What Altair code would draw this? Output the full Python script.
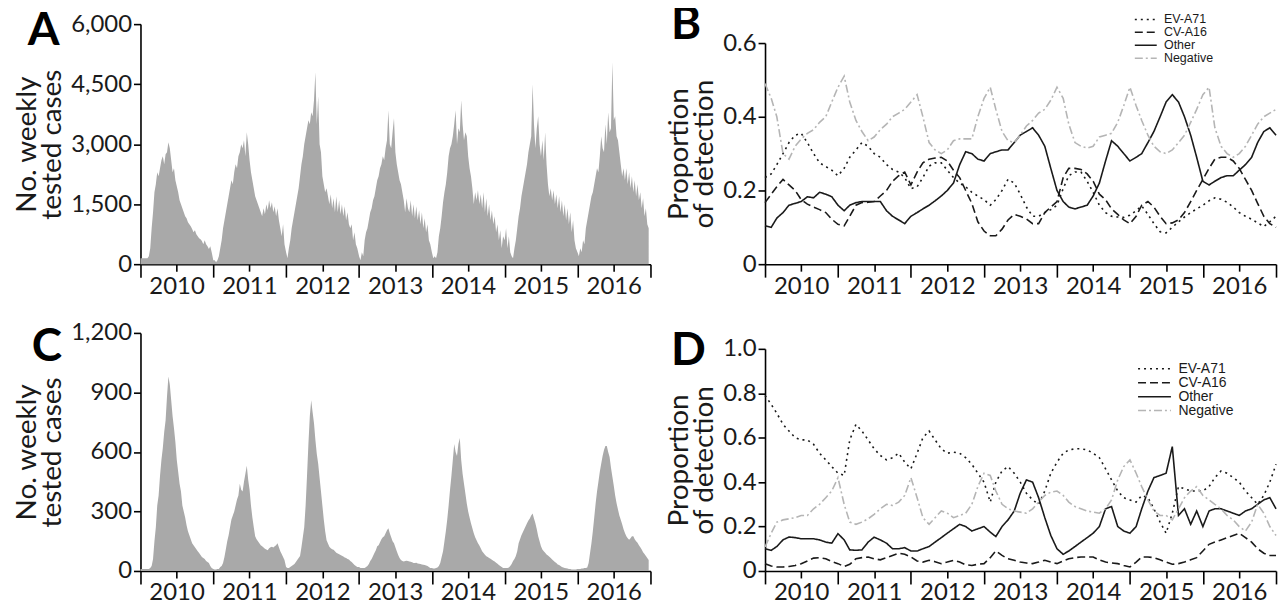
import altair as alt
import pandas as pd

YEARS = [2010, 2011, 2012, 2013, 2014, 2015, 2016]
SERIES = ["EV-A71", "CV-A16", "Other", "Negative"]

# ---------------- Panel A: weekly tested cases (52 weeks per year) ----------------
A_2010 = [150, 150, 150, 150, 150, 150, 200, 400, 900, 1300, 1800, 2000,
          2300, 2200, 2400, 2600, 2700, 2500, 2750, 2800, 3050, 2900, 2600, 2300,
          2400, 2100, 1950, 1800, 1600, 1500, 1400, 1300, 1200, 1150, 1050, 1000,
          950, 880, 800, 850, 750, 700, 650, 620, 580, 500, 600, 500, 450, 380, 450, 300]
A_2011 = [100, 100, 50, 100, 200, 400, 600, 900, 1100, 1300, 1500, 1700,
          1900, 2100, 2000, 2300, 2500, 2400, 2700, 2800, 3000, 2900, 3100, 2700,
          3300, 3000, 2600, 2300, 2100, 1900, 1700, 1600, 1500, 1400, 1300, 1200,
          1400, 1250, 1500, 1350, 1600, 1400, 1550, 1300, 1450, 1200, 1400, 1100, 900, 700, 1000, 500]
A_2012 = [300, 150, 400, 600, 900, 1100, 1300, 1500, 1700, 1900, 2200, 2500,
          2700, 3000, 3200, 3400, 3600, 3500, 3800, 3700, 4100, 4800, 3500, 4200,
          3000, 2800, 2200, 2000, 1800, 1900, 1700, 1500, 1750, 1400, 1650, 1300,
          1700, 1300, 1600, 1250, 1500, 1200, 1450, 1100, 1300, 1000, 900, 1000, 600, 800, 500, 400]
A_2013 = [200, 100, 300, 200, 600, 800, 900, 1100, 1300, 1400, 1600, 1700,
          1900, 2100, 2200, 2400, 2500, 2700, 2600, 2900, 3100, 3850, 3000, 2900,
          3300, 3650, 2800, 2500, 2300, 2100, 2000, 1800, 1600, 1300, 1650, 1400,
          1300, 1600, 1200, 1500, 1150, 1450, 1100, 1350, 1000, 1300, 900, 1150, 800, 1000, 600, 500]
A_2014 = [300, 150, 200, 150, 300, 700, 900, 1200, 1550, 1800, 2000, 2300,
          2700, 2900, 3000, 3200, 3500, 3850, 3000, 3400, 3300, 4100, 3500, 3100,
          3300, 3200, 2700, 2400, 2200, 1900, 1500, 1800, 1600, 1850, 1500, 1750,
          1400, 1800, 1300, 1650, 1200, 1500, 1100, 1350, 1000, 1200, 800, 1000, 600, 850, 400, 700]
A_2015 = [600, 900, 400, 700, 300, 200, 150, 400, 600, 900, 1200, 1400,
          1700, 1900, 2100, 2300, 2500, 2800, 3000, 3200, 4500, 3500, 2900, 3400,
          3700, 3000, 2700, 3100, 2600, 3300, 2500, 2000, 1700, 1900, 1600, 1850,
          1500, 1750, 1400, 1700, 1300, 1600, 1200, 1500, 1100, 1400, 1000, 1300, 800, 1100, 600, 400]
A_2016 = [300, 200, 400, 300, 600, 500, 900, 1100, 1300, 1500, 1700, 1800,
          2000, 2200, 2400, 2300, 2700, 3200, 2900, 2800, 3500, 3000, 3800, 3300,
          3400, 5050, 3600, 3700, 3200, 3100, 2800, 2500, 2200, 2400, 2100, 2400,
          2000, 2300, 1900, 2200, 1800, 2100, 1700, 2000, 1600, 1800, 1400, 1650, 1200, 1400, 1000, 900]

# ---------------- Panel C: weekly tested cases ----------------
C_2010 = [10, 10, 10, 10, 10, 10, 10, 15, 25, 60, 150, 220,
          330, 380, 480, 560, 620, 700, 760, 880, 980, 940, 860, 780,
          720, 650, 560, 500, 440, 400, 330, 300, 270, 230, 200, 180,
          160, 140, 130, 120, 110, 100, 90, 80, 70, 65, 60, 50, 45, 40, 25, 15]
C_2011 = [10, 8, 8, 10, 10, 20, 25, 40, 70, 110, 150, 180,
          220, 260, 280, 300, 330, 360, 380, 440, 410, 400, 450, 490,
          530, 460, 410, 330, 270, 220, 175, 160, 150, 140, 130, 125,
          118, 112, 108, 105, 115, 120, 122, 118, 125, 130, 140, 120, 100, 85, 70, 55]
C_2012 = [20, 15, 15, 20, 25, 30, 35, 45, 55, 65, 75, 120,
          170, 220, 330, 480, 640, 780, 860, 800, 745, 660, 590, 540,
          470, 400, 330, 260, 200, 155, 138, 122, 115, 110, 107, 100,
          92, 88, 84, 80, 77, 73, 68, 65, 60, 58, 50, 45, 38, 30, 25, 20]
C_2013 = [20, 15, 15, 15, 15, 20, 25, 35, 50, 60, 75, 90,
          105, 125, 130, 145, 160, 170, 175, 190, 205, 215, 190, 170,
          150, 140, 120, 100, 80, 65, 55, 50, 48, 50, 52, 50,
          48, 46, 44, 40, 40, 42, 38, 36, 35, 33, 32, 30, 28, 25, 20, 15]
C_2014 = [15, 12, 12, 15, 18, 25, 40, 70, 100, 150, 200, 260,
          330, 410, 480, 560, 640, 600, 580, 640, 670, 560, 490, 440,
          390, 340, 300, 270, 240, 215, 190, 170, 155, 140, 128, 115,
          100, 90, 82, 74, 70, 66, 62, 56, 52, 48, 42, 36, 30, 25, 20, 15]
C_2015 = [15, 15, 15, 18, 25, 35, 50, 60, 75, 100, 140, 160,
          180, 195, 210, 225, 240, 255, 265, 280, 290, 265, 240, 210,
          175, 150, 125, 108, 100, 92, 83, 78, 72, 65, 58, 52,
          45, 40, 33, 30, 25, 20, 17, 15, 14, 12, 10, 10, 8, 8, 8, 8]
C_2016 = [10, 10, 10, 12, 12, 15, 15, 17, 40, 90, 140, 200,
          270, 340, 400, 450, 500, 540, 580, 610, 630, 630, 600, 575,
          520, 475, 430, 380, 342, 310, 280, 258, 235, 210, 192, 175,
          165, 158, 165, 175, 175, 160, 150, 142, 130, 120, 108, 95, 85, 75, 65, 55]

# ---------------- Panel B: monthly proportions (Jan 2010 ... Jan 2017) ----------------
B_EV = [.235, .245, .27, .30, .33, .35, .355, .33, .30, .275, .265, .255,
        .24, .26, .29, .31, .33, .32, .30, .29, .27, .257, .25, .235,
        .205, .21, .235, .266, .275, .275, .255, .235, .22, .21, .195, .185,
        .175, .16, .175, .20, .23, .22, .19, .155, .13, .13, .14, .148,
        .16, .205, .24, .25, .25, .225, .195, .16, .14, .13, .128, .127,
        .133, .145, .158, .135, .11, .088, .085, .10, .115, .128, .14, .15,
        .16, .172, .18, .176, .168, .155, .14, .13, .122, .112, .102, .115, .13]
B_CV = [.167, .19, .21, .23, .215, .20, .175, .163, .155, .148, .14, .122,
        .108, .104, .13, .16, .167, .168, .17, .185, .20, .225, .24, .25,
        .215, .25, .275, .285, .288, .29, .28, .255, .235, .20, .165, .115,
        .09, .077, .077, .095, .12, .135, .13, .123, .11, .11, .14, .155,
        .17, .235, .26, .26, .257, .245, .225, .19, .175, .15, .135, .12,
        .11, .13, .16, .17, .155, .13, .11, .112, .12, .14, .17, .20,
        .23, .26, .285, .29, .29, .28, .26, .23, .20, .165, .13, .11, .10]
B_OT = [.104, .10, .125, .14, .16, .165, .17, .183, .18, .195, .19, .183,
        .16, .145, .16, .167, .17, .17, .17, .17, .145, .13, .12, .11,
        .13, .14, .15, .16, .172, .185, .20, .22, .27, .305, .30, .285,
        .28, .30, .305, .31, .31, .33, .35, .36, .37, .35, .32, .26,
        .20, .17, .155, .15, .155, .16, .185, .22, .28, .335, .32, .30,
        .28, .29, .30, .33, .36, .40, .44, .46, .44, .40, .35, .29,
        .225, .215, .225, .235, .24, .24, .255, .27, .29, .33, .36, .37, .35]
B_NG = [.49, .45, .40, .30, .285, .32, .34, .355, .365, .385, .40, .44,
        .48, .51, .44, .39, .36, .335, .345, .365, .38, .40, .41, .42,
        .44, .46, .40, .33, .31, .30, .31, .335, .34, .34, .34, .40,
        .45, .48, .42, .36, .335, .33, .35, .375, .39, .41, .42, .445,
        .48, .45, .38, .33, .32, .315, .32, .345, .35, .355, .385, .43,
        .48, .43, .39, .35, .32, .305, .30, .31, .33, .35, .385, .42,
        .46, .48, .37, .32, .30, .29, .30, .32, .35, .38, .40, .41, .42]

# ---------------- Panel D: monthly proportions ----------------
D_EV = [.79, .75, .71, .66, .63, .60, .59, .59, .57, .53, .50, .47,
        .44, .43, .59, .66, .63, .59, .55, .52, .50, .51, .53, .49,
        .46, .53, .60, .63, .59, .55, .53, .535, .53, .51, .48, .44,
        .40, .31, .40, .45, .47, .44, .40, .35, .32, .30, .36, .44,
        .49, .53, .545, .55, .55, .545, .53, .51, .46, .41, .36, .33,
        .32, .31, .34, .33, .28, .22, .17, .26, .38, .37, .36, .36,
        .36, .38, .42, .45, .44, .42, .40, .36, .33, .30, .34, .40, .48]
D_CV = [.033, .022, .018, .018, .02, .025, .033, .045, .058, .06, .055, .042,
        .033, .02, .03, .055, .06, .063, .055, .05, .06, .07, .08, .075,
        .063, .045, .04, .048, .042, .033, .04, .048, .04, .028, .025, .03,
        .033, .06, .09, .07, .055, .048, .04, .036, .033, .04, .048, .04,
        .033, .045, .055, .06, .063, .063, .063, .05, .04, .036, .033, .025,
        .018, .04, .063, .063, .06, .05, .04, .03, .033, .04, .05, .06,
        .09, .12, .13, .14, .15, .16, .17, .15, .13, .10, .08, .07, .07]
D_OT = [.10, .093, .11, .14, .153, .15, .145, .145, .145, .14, .13, .125,
        .168, .14, .095, .093, .095, .13, .152, .14, .125, .10, .10, .105,
        .09, .09, .10, .11, .13, .15, .17, .19, .21, .20, .18, .19,
        .20, .175, .155, .20, .23, .27, .35, .41, .40, .33, .24, .16,
        .10, .075, .09, .11, .13, .15, .17, .20, .28, .29, .20, .18,
        .17, .20, .28, .36, .42, .43, .44, .56, .25, .28, .21, .27,
        .20, .27, .28, .28, .27, .26, .25, .27, .28, .30, .32, .33, .28]
D_NG = [.108, .17, .22, .23, .235, .24, .25, .25, .28, .30, .33, .36,
        .42, .30, .22, .21, .22, .235, .255, .28, .30, .295, .31, .34,
        .42, .33, .24, .21, .24, .27, .26, .24, .25, .26, .30, .38,
        .44, .43, .36, .30, .28, .27, .265, .26, .28, .31, .34, .355,
        .36, .34, .31, .29, .28, .27, .265, .26, .28, .32, .41, .47,
        .50, .44, .38, .32, .27, .25, .25, .23, .28, .33, .36, .38,
        .34, .32, .30, .28, .25, .23, .20, .18, .22, .30, .26, .20, .16]

Y_TICKS_A = [0, 1500, 3000, 4500, 6000]
Y_TICKS_C = [0, 300, 600, 900, 1200]
Y_TICKS_B = [0, 0.2, 0.4, 0.6]
Y_TICKS_D = [0, 0.2, 0.4, 0.6, 0.8, 1.0]

FONT = "Lato"
INK = "#1a1a1a"


def weekly_frame(by_year):
    rows = []
    for year, vals in zip(YEARS, by_year):
        start = pd.Timestamp(year=year, month=1, day=1)
        for w, v in enumerate(vals):
            rows.append({"date": start + pd.Timedelta(days=7 * w), "cases": v})
    return pd.DataFrame(rows)


def monthly_frame(series_lists):
    rows = []
    for name, vals in zip(SERIES, series_lists):
        for m, v in enumerate(vals):
            d = pd.Timestamp(year=2010 + m // 12, month=m % 12 + 1, day=1)
            rows.append({"date": d, "series": name, "prop": v})
    return pd.DataFrame(rows)


def x_enc():
    ticks = [alt.DateTime(year=y, month=1, date=1) for y in range(2010, 2018)] + \
            [alt.DateTime(year=y, month=7, date=1) for y in range(2010, 2017)]
    return alt.X(
        "date:T", title=None,
        scale=alt.Scale(domain=[alt.DateTime(year=2010, month=1, date=1),
                                alt.DateTime(year=2017, month=1, date=1)], nice=False),
        axis=alt.Axis(values=ticks,
                      labelExpr="month(datum.value) == 6 ? timeFormat(datum.value, '%Y') : ''",
                      tickSize={"condition": {"test": "month(datum.value) == 0", "value": 13}, "value": 7},
                      labelOverlap=False, labelFlush=False, labelPadding=3),
    )


def letter(text, dx, offset):
    return alt.TitleParams(text, anchor="start", frame="bounds", fontSize=46, font=FONT,
                           fontWeight="bold", color="black", baseline="top", dx=dx, offset=offset)


def area_panel(df, ymax, yticks, name, height, dx, offset):
    return alt.Chart(df).mark_area(color="#a9a9a9", interpolate="linear").encode(
        x=x_enc(),
        y=alt.Y("cases:Q", scale=alt.Scale(domain=[0, ymax], nice=False),
                axis=alt.Axis(values=yticks, format=",.0f", title=["No. weekly", "tested cases"],
                              tickSize=7, titlePadding=4)),
    ).properties(width=512, height=height, title=letter(name, dx, offset))


def line_panel(df, ymax, yticks, name, height, top_px, dx, offset, lx, ly, lfont, sym, loff):
    leg = alt.Legend(orient="none", legendX=lx, legendY=ly, title=None, symbolType=sym,
                     symbolSize=100, symbolStrokeWidth=1.5, labelFont="Liberation Sans",
                     labelFontSize=lfont, labelColor=INK, rowPadding=0, labelOffset=loff, padding=0)
    return alt.Chart(df).mark_line(strokeWidth=1.6).encode(
        x=x_enc(),
        y=alt.Y("prop:Q", scale=alt.Scale(domain=[0, ymax], range=[height, top_px], nice=False),
                axis=alt.Axis(values=yticks,
                              labelExpr="datum.value == 0 ? '0' : format(datum.value, '.1f')",
                              title=["Proportion", "of detection"], tickSize=7, titlePadding=4)),
        color=alt.Color("series:N", scale=alt.Scale(domain=SERIES,
                                                    range=[INK, INK, INK, "#b5b5b5"]), legend=leg),
        strokeDash=alt.StrokeDash("series:N", scale=alt.Scale(domain=SERIES,
                                                             range=[[2, 4], [8, 4], [1, 0], [8, 3, 2, 3]]),
                                  legend=leg),
    ).properties(width=513, height=height, title=letter(name, dx, offset))


dfA = weekly_frame([A_2010, A_2011, A_2012, A_2013, A_2014, A_2015, A_2016])
dfC = weekly_frame([C_2010, C_2011, C_2012, C_2013, C_2014, C_2015, C_2016])
dfB = monthly_frame([B_EV, B_CV, B_OT, B_NG])
dfD = monthly_frame([D_EV, D_CV, D_OT, D_NG])

A = area_panel(dfA, 6000, Y_TICKS_A, "A", 241, 14, -43)
B = line_panel(dfB, 0.6, Y_TICKS_B, "B", 241, 19, 5, -36, 376, -11, 12.5, "M-2.2,0H2.2", 12)
C = area_panel(dfC, 1200, Y_TICKS_C, "C", 239, 18, -50)
D = line_panel(dfD, 1.0, Y_TICKS_D, "D", 239, 16, 5, -42, 384, 29, 14, "M-3.3,0H3.3", 17)

chart = alt.concat(A, B, C, D, columns=2, spacing={"row": 17, "column": 14}).resolve_scale(
    color="independent", strokeDash="independent"
).properties(
    padding={"left": 5, "top": -7, "right": 0, "bottom": 0}
).configure_view(stroke=None).configure_axis(
    labelFont=FONT, labelFontSize=24, labelColor=INK,
    titleFont=FONT, titleFontSize=28, titleFontWeight="normal", titleColor=INK, titleLineHeight=25,
    domainColor="black", domainWidth=1.6, tickColor="black", tickWidth=1.6, grid=False,
)

chart.save("out.html", embed_options={"renderer": "svg", "actions": False})
